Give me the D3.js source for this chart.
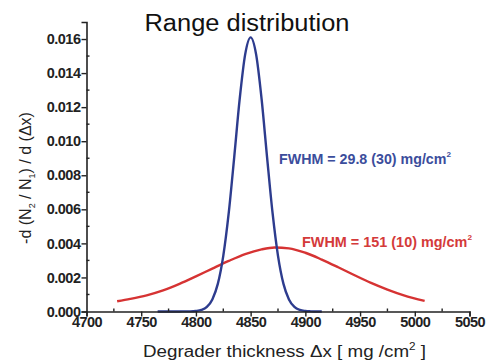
<!DOCTYPE html>
<html>
<head>
<meta charset="utf-8">
<script src="https://cdn.jsdelivr.net/npm/d3@7"></script>
<style>
  html, body { margin: 0; padding: 0; background: #fff; }
  svg { display: block; }
</style>
</head>
<body>
<svg id="chart" width="489" height="364"></svg>
<script>
// ---- Data ----
const xTicks = [4700, 4750, 4800, 4850, 4900, 4950, 5000, 5050];
const yTicks = [0.000, 0.002, 0.004, 0.006, 0.008, 0.010, 0.012, 0.014, 0.016];
const xTickLabels = ["4700", "4750", "4800", "4850", "4900", "4950", "5000", "5050"];
const yTickLabels = ["0.000", "0.002", "0.004", "0.006", "0.008", "0.010", "0.012", "0.014", "0.016"];

const blueX = [4765, 4775, 4785, 4790, 4795, 4800, 4805, 4810, 4815, 4820, 4825, 4830, 4835, 4840, 4845, 4850,
               4855, 4860, 4865, 4870, 4875, 4880, 4885, 4890, 4895, 4900, 4905, 4910, 4915];
const blueY = [0.00000, 0.00000, 0.00000, 0.00001, 0.00001, 0.00003, 0.00009, 0.00027, 0.00071, 0.00162, 0.00327, 0.00580, 0.00907, 0.01248, 0.01510, 0.01610,
               0.01510, 0.01248, 0.00907, 0.00580, 0.00327, 0.00162, 0.00071, 0.00027, 0.00009, 0.00003, 0.00001, 0.00000, 0.00000];

const redX = [4728, 4740, 4755, 4770, 4785, 4800, 4815, 4830, 4845, 4860, 4872, 4885, 4900, 4915, 4930, 4945, 4960, 4975, 4990, 5009];
const redY = [0.00060, 0.00074, 0.00095, 0.00124, 0.00162, 0.00206, 0.00252, 0.00297, 0.00337, 0.00365, 0.00376, 0.00371, 0.00345, 0.00305, 0.00260, 0.00213, 0.00168, 0.00129, 0.00095, 0.00062];

const titleText = "Range distribution";
const blueNote = "FWHM = 29.8 (30) mg/cm";
const redNote = "FWHM = 151 (10) mg/cm";

// ---- Layout ----
const svg = d3.select("#chart");
const x = d3.scaleLinear().domain([4700, 5050]).range([86.5, 469.5]);
const y = d3.scaleLinear().domain([0, 0.017]).range([311.5, 22]);

const blue = "#2d3c8e";
const red = "#d63333";
const tickFont = "'Liberation Sans Narrow', 'Liberation Sans', Arial, sans-serif";
const mainFont = "'Liberation Sans', Arial, sans-serif";

// Lines
const line = d3.line().x(d => x(d[0])).y(d => y(d[1])).curve(d3.curveMonotoneX);
svg.append("path")
  .datum(redX.map((v, i) => [v, redY[i]]))
  .attr("d", line).attr("fill", "none").attr("stroke", red).attr("stroke-width", 2.4);
svg.append("path")
  .datum(blueX.map((v, i) => [v, blueY[i]]))
  .attr("d", line).attr("fill", "none").attr("stroke", blue).attr("stroke-width", 2.4);

// X axis
const gx = svg.append("g").attr("transform", `translate(0,${y(0)})`);
gx.call(d3.axisBottom(x).tickValues(xTicks).tickSize(5).tickFormat((d, i) => xTickLabels[i]));
gx.select(".domain").attr("stroke", "#222").attr("stroke-width", 1.6);
gx.selectAll(".tick line").attr("stroke", "#222").attr("stroke-width", 1.4);
gx.selectAll(".tick text").attr("font-family", tickFont).attr("font-size", 14.5).attr("font-weight", "bold")
  .attr("fill", "#222").attr("letter-spacing", "-0.5").attr("dy", "0.75em").attr("y", 5);
const xMinor = d3.range(4725, 5050, 50);
gx.selectAll(".minor").data(xMinor).enter().append("line")
  .attr("x1", d => x(d)).attr("x2", d => x(d)).attr("y1", 0).attr("y2", -3)
  .attr("stroke", "#222").attr("stroke-width", 1.4);

// Y axis
const gy = svg.append("g").attr("transform", `translate(${x(4700)},0)`);
gy.call(d3.axisLeft(y).tickValues(yTicks).tickSize(5).tickFormat((d, i) => yTickLabels[i]));
gy.select(".domain").attr("stroke", "#222").attr("stroke-width", 1.6);
gy.selectAll(".tick line").attr("stroke", "#222").attr("stroke-width", 1.4);
gy.selectAll(".tick text").attr("font-family", tickFont).attr("font-size", 14.5).attr("font-weight", "bold")
  .attr("fill", "#222").attr("letter-spacing", "-0.5").attr("x", -6);
const yMinor = d3.range(0.001, 0.017, 0.002);
gy.selectAll(".minor").data(yMinor).enter().append("line")
  .attr("x1", 0).attr("x2", 3).attr("y1", d => y(d)).attr("y2", d => y(d))
  .attr("stroke", "#222").attr("stroke-width", 1.4);

// Title
svg.append("text").attr("x", 247).attr("y", 31).attr("text-anchor", "middle")
  .attr("font-family", mainFont).attr("font-size", 23).attr("font-weight", 500)
  .attr("textLength", 205).attr("lengthAdjust", "spacingAndGlyphs")
  .attr("fill", "#111").text(titleText);

// Y label
const yl = svg.append("text").attr("transform", "translate(31,178) rotate(-90)")
  .attr("text-anchor", "middle")
  .attr("font-family", mainFont).attr("font-size", 16).attr("fill", "#222");
yl.append("tspan").text("-d (N");
yl.append("tspan").attr("font-size", 9).attr("dy", 4).text("2");
yl.append("tspan").attr("dy", -4).text(" / N");
yl.append("tspan").attr("font-size", 9).attr("dy", 4).text("1");
yl.append("tspan").attr("dy", -4).text(") / d (\u0394x)");

// X label
const xl = svg.append("text").attr("x", 143).attr("y", 357)
  .attr("font-family", mainFont).attr("font-size", 16).attr("fill", "#222")
  .attr("textLength", 283).attr("lengthAdjust", "spacingAndGlyphs");
xl.append("tspan").text("Degrader thickness \u0394x [ mg /cm");
xl.append("tspan").attr("font-size", 10).attr("dy", -7).text("2");
xl.append("tspan").attr("dy", 7).text(" ]");

// Annotations
function note(text, px, py, len, color) {
  const t = svg.append("text").attr("x", px).attr("y", py)
    .attr("font-family", tickFont).attr("font-size", 14).attr("font-weight", "bold")
    .attr("textLength", len).attr("lengthAdjust", "spacingAndGlyphs")
    .attr("fill", color);
  t.append("tspan").text(text);
  t.append("tspan").attr("font-size", 8).attr("dy", -7).text("2");
}
note(blueNote, 279, 164, 172, "#3b4d9c");
note(redNote, 302, 247, 170, "#d43a3a");
</script>
</body>
</html>
